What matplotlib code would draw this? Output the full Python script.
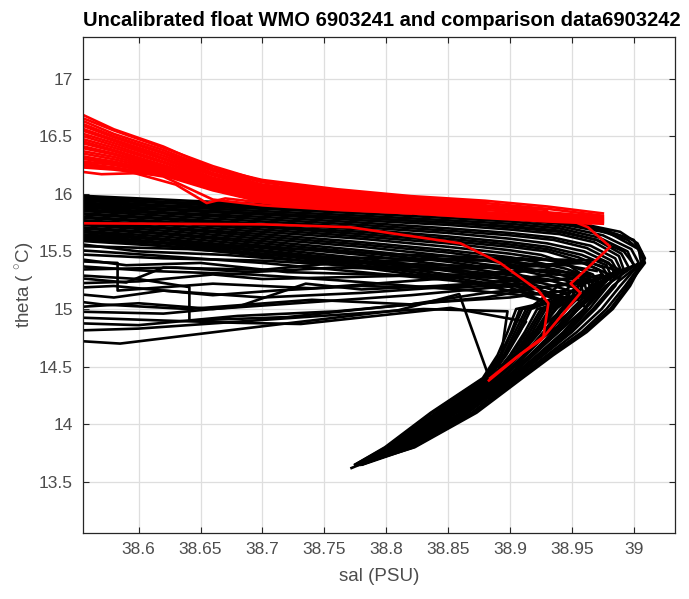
import matplotlib
matplotlib.use('Agg')
import matplotlib.pyplot as plt

plt.rcParams['font.family'] = ['Liberation Sans', 'DejaVu Sans']
plt.rcParams['mathtext.fontset'] = 'custom'
plt.rcParams['mathtext.rm'] = 'Liberation Sans'

# comparison data profiles (black), warm surface layer -> salinity max -> deep tail
upper_sal = [
    [38.54, 38.62, 38.70, 38.78, 38.85, 38.90, 38.935, 38.962, 38.989, 39.003, 39.009, 38.997, 38.983, 38.962, 38.935, 38.910, 38.873, 38.823, 38.781, 38.772],
    [38.54, 38.62, 38.70, 38.78, 38.85, 38.90, 38.94, 38.975, 39.000, 39.008, 38.993, 38.978, 38.958, 38.932, 38.908, 38.871, 38.822, 38.781],
    [38.54, 38.62, 38.70, 38.78, 38.85, 38.90, 38.94, 38.98, 39.004, 39.006, 38.983, 38.967, 38.949, 38.926, 38.903, 38.865],
    [38.54, 38.62, 38.70, 38.78, 38.85, 38.90, 38.94, 38.975, 38.998, 39.004, 38.977, 38.960, 38.943, 38.922, 38.900, 38.862, 38.816, 38.779],
    [38.54, 38.62, 38.70, 38.78, 38.85, 38.90, 38.94, 38.972, 38.995, 39.000, 38.969, 38.950, 38.935, 38.916, 38.897, 38.857, 38.813, 38.778],
    [38.54, 38.62, 38.70, 38.78, 38.85, 38.90, 38.94, 38.97, 38.99, 38.996, 38.955, 38.934, 38.922, 38.907, 38.890],
    [38.54, 38.62, 38.70, 38.78, 38.85, 38.90, 38.94, 38.968, 38.988, 38.992, 38.985, 38.969, 38.950, 38.927, 38.904, 38.866, 38.819, 38.780],
    [38.54, 38.62, 38.70, 38.78, 38.85, 38.90, 38.935, 38.965, 38.985, 38.99, 38.949, 38.927, 38.916, 38.903, 38.887, 38.846, 38.806, 38.777],
    [38.54, 38.62, 38.70, 38.78, 38.85, 38.90, 38.935, 38.962, 38.982, 38.988, 38.971, 38.953, 38.937, 38.917, 38.898, 38.859],
    [38.54, 38.62, 38.70, 38.78, 38.85, 38.90, 38.93, 38.96, 38.98, 38.985, 38.965, 38.946, 38.931, 38.913, 38.895, 38.855, 38.811, 38.778],
    [38.54, 38.62, 38.70, 38.78, 38.85, 38.90, 38.93, 38.958, 38.978, 38.982, 38.939, 38.915, 38.906, 38.896, 38.882],
    [38.54, 38.62, 38.70, 38.78, 38.85, 38.90, 38.93, 38.955, 38.975, 38.982, 38.964, 38.947, 38.924, 38.902, 38.864, 38.817, 38.780],
    [38.54, 38.62, 38.70, 38.78, 38.85, 38.90, 38.93, 38.952, 38.972, 38.978, 38.936, 38.924, 38.908, 38.891, 38.851, 38.809, 38.777],
    [38.54, 38.62, 38.70, 38.78, 38.85, 38.90, 38.925, 38.945, 38.958, 38.955, 38.913, 38.904, 38.895, 38.881, 38.840, 38.801, 38.776],
    [38.54, 38.62, 38.70, 38.78, 38.85, 38.90, 38.925, 38.948, 38.967, 38.972, 38.955, 38.939, 38.919, 38.898, 38.860, 38.814, 38.779],
    [38.54, 38.62, 38.70, 38.78, 38.85, 38.90, 38.92, 38.945, 38.964, 38.968, 38.925, 38.914, 38.901, 38.886, 38.845],
    [38.54, 38.62, 38.70, 38.78, 38.85, 38.90, 38.92, 38.942, 38.962, 38.966, 38.941, 38.927, 38.911, 38.893, 38.853, 38.810, 38.778],
    [38.54, 38.62, 38.70, 38.78, 38.85, 38.90, 38.915, 38.94, 38.96, 38.962, 38.910, 38.902, 38.893, 38.880],
    [38.54, 38.62, 38.70, 38.78, 38.85, 38.90, 38.915, 38.938, 38.957, 38.96, 38.932, 38.920, 38.905, 38.889, 38.849, 38.807, 38.777],
    [38.54, 38.62, 38.70, 38.78, 38.85, 38.90, 38.91, 38.935, 38.954, 38.955, 38.908, 38.901, 38.892, 38.879, 38.837, 38.800, 38.775],
    [38.54, 38.62, 38.70, 38.78, 38.85, 38.90, 38.91, 38.932, 38.951, 38.953, 38.922, 38.912, 38.900, 38.885, 38.844, 38.804, 38.776],
    [38.54, 38.62, 38.70, 38.78, 38.85, 38.90, 38.93, 38.948, 38.943, 38.929, 38.912, 38.894],
    [38.54, 38.62, 38.70, 38.78, 38.85, 38.90, 38.925, 38.942, 38.917, 38.908, 38.897, 38.883, 38.842, 38.803, 38.776],
    [38.54, 38.62, 38.70, 38.78, 38.85, 38.90, 38.92, 38.94, 38.929, 38.918, 38.904, 38.888, 38.847],
    [38.54, 38.62, 38.70, 38.78, 38.85, 38.90, 38.915, 38.93, 38.905, 38.898, 38.890, 38.878, 38.836, 38.799, 38.775],
    [38.54, 38.62, 38.70, 38.78, 38.85, 38.90, 38.93, 38.955, 38.962, 38.945, 38.923, 38.901],
    [38.54, 38.62, 38.70, 38.78, 38.85, 38.90, 38.94, 38.97, 38.995, 39.006, 39.009, 38.995, 38.981, 38.960, 38.933, 38.909],
    [38.54, 38.62, 38.70, 38.78, 38.85, 38.90, 38.94, 38.97, 38.992, 39.002, 38.989, 38.974, 38.954, 38.930, 38.906, 38.869, 38.820, 38.780],
]
upper_theta = [
    [15.99, 15.95, 15.91, 15.88, 15.84, 15.81, 15.78, 15.73, 15.67, 15.57, 15.44, 15.20, 15.00, 14.80, 14.60, 14.40, 14.10, 13.80, 13.66, 13.62],
    [15.98, 15.93, 15.90, 15.86, 15.83, 15.80, 15.76, 15.69, 15.60, 15.42, 15.20, 15.00, 14.80, 14.60, 14.40, 14.10, 13.80, 13.65],
    [15.96, 15.92, 15.88, 15.85, 15.81, 15.78, 15.74, 15.66, 15.52, 15.40, 15.20, 15.00, 14.80, 14.60, 14.40, 14.10],
    [15.95, 15.90, 15.87, 15.83, 15.79, 15.76, 15.72, 15.64, 15.52, 15.40, 15.20, 15.00, 14.80, 14.60, 14.40, 14.10, 13.80, 13.65],
    [15.93, 15.89, 15.85, 15.81, 15.77, 15.74, 15.70, 15.62, 15.50, 15.38, 15.20, 15.00, 14.80, 14.60, 14.40, 14.10, 13.80, 13.65],
    [15.92, 15.87, 15.83, 15.79, 15.75, 15.72, 15.68, 15.60, 15.48, 15.36, 15.20, 15.00, 14.80, 14.60, 14.40],
    [15.90, 15.86, 15.82, 15.77, 15.73, 15.69, 15.65, 15.58, 15.46, 15.34, 15.20, 15.00, 14.80, 14.60, 14.40, 14.10, 13.80, 13.65],
    [15.89, 15.84, 15.80, 15.75, 15.70, 15.66, 15.62, 15.55, 15.44, 15.33, 15.20, 15.00, 14.80, 14.60, 14.40, 14.10, 13.80, 13.65],
    [15.87, 15.83, 15.78, 15.73, 15.68, 15.64, 15.60, 15.53, 15.42, 15.31, 15.20, 15.00, 14.80, 14.60, 14.40, 14.10],
    [15.86, 15.81, 15.76, 15.71, 15.66, 15.61, 15.57, 15.50, 15.40, 15.30, 15.20, 15.00, 14.80, 14.60, 14.40, 14.10, 13.80, 13.65],
    [15.84, 15.79, 15.74, 15.69, 15.63, 15.58, 15.54, 15.47, 15.38, 15.28, 15.20, 15.00, 14.80, 14.60, 14.40],
    [15.83, 15.78, 15.72, 15.67, 15.61, 15.56, 15.52, 15.45, 15.36, 15.24, 15.00, 14.80, 14.60, 14.40, 14.10, 13.80, 13.65],
    [15.81, 15.76, 15.71, 15.65, 15.59, 15.54, 15.50, 15.43, 15.34, 15.24, 15.00, 14.80, 14.60, 14.40, 14.10, 13.80, 13.65],
    [15.80, 15.75, 15.69, 15.63, 15.57, 15.51, 15.47, 15.40, 15.30, 15.18, 15.00, 14.80, 14.60, 14.40, 14.10, 13.80, 13.65],
    [15.78, 15.73, 15.67, 15.61, 15.54, 15.48, 15.44, 15.38, 15.30, 15.20, 15.00, 14.80, 14.60, 14.40, 14.10, 13.80, 13.65],
    [15.77, 15.71, 15.65, 15.58, 15.51, 15.45, 15.41, 15.35, 15.28, 15.18, 15.00, 14.80, 14.60, 14.40, 14.10],
    [15.75, 15.70, 15.63, 15.56, 15.49, 15.42, 15.38, 15.33, 15.26, 15.16, 15.00, 14.80, 14.60, 14.40, 14.10, 13.80, 13.65],
    [15.74, 15.68, 15.61, 15.54, 15.46, 15.39, 15.35, 15.30, 15.24, 15.14, 15.00, 14.80, 14.60, 14.40],
    [15.72, 15.66, 15.59, 15.51, 15.43, 15.36, 15.32, 15.27, 15.21, 15.12, 15.00, 14.80, 14.60, 14.40, 14.10, 13.80, 13.65],
    [15.71, 15.65, 15.57, 15.49, 15.41, 15.33, 15.29, 15.24, 15.18, 15.10, 15.00, 14.80, 14.60, 14.40, 14.10, 13.80, 13.65],
    [15.69, 15.63, 15.55, 15.47, 15.38, 15.30, 15.26, 15.21, 15.15, 15.08, 15.00, 14.80, 14.60, 14.40, 14.10, 13.80, 13.65],
    [15.68, 15.61, 15.53, 15.44, 15.35, 15.27, 15.18, 15.12, 15.00, 14.80, 14.60, 14.40],
    [15.66, 15.60, 15.51, 15.42, 15.33, 15.25, 15.16, 15.10, 15.00, 14.80, 14.60, 14.40, 14.10, 13.80, 13.65],
    [15.65, 15.58, 15.50, 15.40, 15.30, 15.22, 15.14, 15.08, 15.00, 14.80, 14.60, 14.40, 14.10],
    [15.63, 15.57, 15.48, 15.38, 15.28, 15.19, 15.12, 15.06, 15.00, 14.80, 14.60, 14.40, 14.10, 13.80, 13.65],
    [15.62, 15.55, 15.46, 15.36, 15.26, 15.16, 15.12, 15.08, 15.00, 14.80, 14.60, 14.40],
    [15.97, 15.93, 15.89, 15.86, 15.82, 15.79, 15.75, 15.69, 15.60, 15.50, 15.40, 15.20, 15.00, 14.80, 14.60, 14.40],
    [15.91, 15.87, 15.83, 15.79, 15.75, 15.71, 15.67, 15.60, 15.50, 15.36, 15.20, 15.00, 14.80, 14.60, 14.40, 14.10, 13.80, 13.65],
]

# comparison data profiles (black), cooler surface layer
lower_sal = [
    [38.54, 38.585, 38.70, 38.81, 38.859, 38.884, 38.864, 38.834, 38.803],
    [38.54, 38.60, 38.72, 38.83, 38.898, 38.890, 38.864, 38.838],
    [38.54, 38.62, 38.68, 38.731, 38.852, 38.913, 38.882],
    [38.54, 38.60, 38.66, 38.74, 38.82, 38.90, 38.955, 38.975, 38.960, 38.935, 38.905],
    [38.54, 38.58, 38.62, 38.70, 38.78, 38.86, 38.935, 38.970, 38.955, 38.930],
    [38.54, 38.583, 38.583, 38.66, 38.74, 38.84, 38.925, 38.965, 38.950, 38.925],
    [38.54, 38.60, 38.641, 38.641, 38.72, 38.80, 38.88, 38.945, 38.975, 38.960],
    [38.54, 38.62, 38.70, 38.78, 38.85, 38.91, 38.965, 38.985, 38.970, 38.945, 38.915],
    [38.54, 38.64, 38.72, 38.80, 38.87, 38.935, 38.975, 38.990, 38.975, 38.955],
    [38.54, 38.61, 38.68, 38.76, 38.84, 38.91, 38.960, 38.980, 38.965, 38.940, 38.910],
    [38.54, 38.60, 38.66, 38.70, 38.78, 38.86, 38.925, 38.960, 38.945],
    [38.54, 38.63, 38.69, 38.76, 38.83, 38.89, 38.945, 38.970],
    [38.54, 38.60, 38.68, 38.76, 38.84, 38.90, 38.945],
    [38.54, 38.57, 38.64, 38.74, 38.82, 38.88, 38.935, 38.965],
    [38.54, 38.59, 38.62, 38.70, 38.76, 38.86, 38.93],
    [38.54, 38.60, 38.67, 38.73, 38.79, 38.85, 38.90, 38.94],
    [38.54, 38.59, 38.65, 38.72, 38.79, 38.86, 38.92],
    [38.54, 38.62, 38.68, 38.735, 38.78, 38.84, 38.90, 38.95],
    [38.54, 38.58, 38.66, 38.71, 38.78, 38.85, 38.91],
    [38.54, 38.62, 38.70, 38.77, 38.83, 38.88, 38.92, 38.945, 38.93, 38.91],
    [38.54, 38.61, 38.69, 38.76, 38.82, 38.87, 38.91, 38.935, 38.925, 38.905],
    [38.54, 38.63, 38.71, 38.79, 38.85, 38.895, 38.93, 38.955, 38.94],
]
lower_theta = [
    [14.73, 14.70, 14.85, 14.99, 15.13, 14.38, 14.22, 14.00, 13.80],
    [14.81, 14.83, 14.92, 15.00, 14.98, 14.38, 14.20, 14.02],
    [14.93, 14.90, 14.88, 14.87, 15.01, 14.89, 14.38],
    [15.01, 15.05, 15.00, 15.06, 15.12, 15.20, 15.28, 15.22, 15.00, 14.76, 14.50],
    [15.14, 15.10, 15.16, 15.10, 15.14, 15.20, 15.30, 15.28, 15.04, 14.80],
    [15.42, 15.40, 15.16, 15.22, 15.18, 15.26, 15.34, 15.30, 15.06, 14.84],
    [15.30, 15.26, 15.19, 14.90, 14.93, 15.02, 15.10, 15.22, 15.30, 15.10],
    [15.48, 15.44, 15.42, 15.37, 15.36, 15.38, 15.40, 15.34, 15.14, 14.90, 14.66],
    [15.55, 15.52, 15.46, 15.44, 15.42, 15.43, 15.42, 15.33, 15.16, 14.94],
    [15.64, 15.58, 15.55, 15.50, 15.46, 15.44, 15.40, 15.30, 15.10, 14.86, 14.62],
    [15.22, 15.24, 15.30, 15.26, 15.28, 15.30, 15.34, 15.30, 15.00],
    [15.34, 15.36, 15.32, 15.36, 15.34, 15.36, 15.38, 15.33],
    [14.88, 14.86, 14.94, 14.98, 15.06, 15.10, 15.16],
    [15.08, 15.04, 15.00, 15.08, 15.04, 15.14, 15.20, 15.24],
    [15.28, 15.23, 15.36, 15.34, 15.40, 15.44, 15.38],
    [15.58, 15.50, 15.47, 15.42, 15.40, 15.38, 15.36, 15.30],
    [15.45, 15.38, 15.40, 15.32, 15.30, 15.28, 15.26],
    [14.98, 14.96, 15.02, 15.22, 15.17, 15.20, 15.24, 15.26],
    [15.18, 15.20, 15.12, 15.16, 15.20, 15.18, 15.22],
    [15.52, 15.46, 15.40, 15.33, 15.27, 15.22, 15.18, 15.10, 14.90, 14.70],
    [15.38, 15.33, 15.30, 15.25, 15.20, 15.16, 15.12, 15.04, 14.85, 14.62],
    [15.60, 15.54, 15.47, 15.40, 15.34, 15.30, 15.26, 15.18, 14.98],
]

# uncalibrated float profiles (red), upper layer on a common salinity grid
float_grid_sal = [38.54, 38.58, 38.62, 38.66, 38.70, 38.76, 38.82, 38.88, 38.93, 38.975]
float_band_theta = [
    [16.76, 16.56, 16.41, 16.22, 16.12, 16.04, 15.98, 15.94, 15.89, 15.83],
    [16.72, 16.55, 16.40, 16.24, 16.11, 16.03, 15.97, 15.93],
    [16.70, 16.52, 16.38, 16.21, 16.10, 16.02, 15.96, 15.92, 15.87, 15.81],
    [16.67, 16.50, 16.36, 16.20, 16.08, 16.01, 15.95, 15.91],
    [16.65, 16.49, 16.35, 16.18, 16.07, 16.00, 15.95, 15.90, 15.86],
    [16.62, 16.47, 16.33, 16.17, 16.06, 15.99, 15.94, 15.89, 15.84, 15.80],
    [16.60, 16.46, 16.31, 16.16, 16.05, 15.98, 15.93],
    [16.57, 16.44, 16.30, 16.14, 16.04, 15.97, 15.92, 15.88, 15.83, 15.79],
    [16.55, 16.42, 16.28, 16.13, 16.03, 15.96, 15.92, 15.87],
    [16.52, 16.40, 16.27, 16.12, 16.02, 15.95, 15.91, 15.86, 15.82, 15.78],
    [16.50, 16.38, 16.25, 16.11, 16.01, 15.95, 15.90, 15.85],
    [16.48, 16.37, 16.24, 16.10, 16.00, 15.94, 15.89, 15.84, 15.81, 15.77],
    [16.45, 16.35, 16.23, 16.09, 15.99, 15.93, 15.88, 15.83, 15.80],
    [16.43, 16.34, 16.22, 16.08, 15.98, 15.92, 15.87],
    [16.40, 16.32, 16.21, 16.07, 15.97, 15.91, 15.86, 15.82, 15.79, 15.76],
    [16.38, 16.30, 16.20, 16.06, 15.96, 15.90, 15.85, 15.81],
    [16.35, 16.28, 16.19, 16.05, 15.95, 15.89, 15.85, 15.81, 15.78, 15.75],
    [16.33, 16.26, 16.18, 16.04, 15.94, 15.88, 15.84],
    [16.30, 16.25, 16.17, 16.04, 15.93, 15.87, 15.84, 15.80, 15.77],
    [16.28, 16.23, 16.16, 16.03, 15.93, 15.87, 15.83],
    [16.26, 16.22, 16.15, 15.95, 15.90, 15.86, 15.83, 15.79, 15.76, 15.74],
    [16.24, 16.21, 16.16, 16.06, 15.97, 15.90, 15.86],
]

# uncalibrated float profiles (red), odd strands and the two deep ones
float_sal = [
    [38.54, 38.555, 38.57, 38.60, 38.64, 38.68, 38.72, 38.78, 38.85, 38.92, 38.965],
    [38.54, 38.56, 38.59, 38.63, 38.655, 38.67, 38.72, 38.80, 38.88, 38.95],
    [38.54, 38.70, 38.771, 38.860, 38.892, 38.923, 38.931, 38.927, 38.905, 38.884],
    [38.54, 38.60, 38.66, 38.743, 38.824, 38.904, 38.949, 38.963, 38.981, 38.949, 38.957, 38.925, 38.909, 38.883],
]
float_theta = [
    [16.22, 16.19, 16.17, 16.18, 16.14, 16.00, 15.93, 15.88, 15.84, 15.79, 15.74],
    [16.30, 16.26, 16.20, 16.08, 15.92, 15.96, 15.90, 15.85, 15.81, 15.76],
    [15.745, 15.735, 15.71, 15.57, 15.40, 15.16, 15.05, 14.76, 14.58, 14.40],
    [16.36, 16.22, 16.08, 15.98, 15.92, 15.86, 15.77, 15.71, 15.54, 15.22, 15.14, 14.73, 14.61, 14.38],
]

x_ticks = [38.6, 38.65, 38.7, 38.75, 38.8, 38.85, 38.9, 38.95, 39.0]
x_labels = ['38.6', '38.65', '38.7', '38.75', '38.8', '38.85', '38.9', '38.95', '39']
y_ticks = [13.5, 14.0, 14.5, 15.0, 15.5, 16.0, 16.5, 17.0]
y_labels = ['13.5', '14', '14.5', '15', '15.5', '16', '16.5', '17']

fig = plt.figure(figsize=(6.89, 5.99), dpi=100)
ax = fig.add_axes([0.120, 0.111, 0.860, 0.827])

for s, t in zip(upper_sal, upper_theta):
    ax.plot(s, t, color='black', lw=1.9)
for s, t in zip(lower_sal, lower_theta):
    ax.plot(s, t, color='black', lw=1.9)
for t in float_band_theta:
    ax.plot(float_grid_sal[:len(t)], t, color='red', lw=1.9)
for s, t in zip(float_sal, float_theta):
    ax.plot(s, t, color='red', lw=1.9)

ax.set_xlim(38.5548, 39.0335)
ax.set_ylim(13.06, 17.36)
ax.set_xticks(x_ticks)
ax.set_xticklabels(x_labels)
ax.set_yticks(y_ticks)
ax.set_yticklabels(y_labels)
ax.grid(True, color='#dedede', lw=0.9)
ax.set_axisbelow(True)
ax.tick_params(direction='in', length=4, width=0.8, colors='#262626',
               labelcolor='#4d4d4d', labelsize=12.5, top=True, right=True, pad=7)
for sp in ax.spines.values():
    sp.set_color('#262626')
    sp.set_linewidth(0.9)

ax.set_title('Uncalibrated float WMO 6903241 and comparison data6903242',
             fontsize=14.5, fontweight='bold', color='black', pad=8, x=0.505)
ax.set_xlabel('sal (PSU)', fontsize=13.5, color='#4d4d4d', labelpad=8)
ax.set_ylabel('theta ( $^{\\circ}$C)', fontsize=13.5, color='#4d4d4d', labelpad=2)

fig.savefig('out.png', dpi=100)
